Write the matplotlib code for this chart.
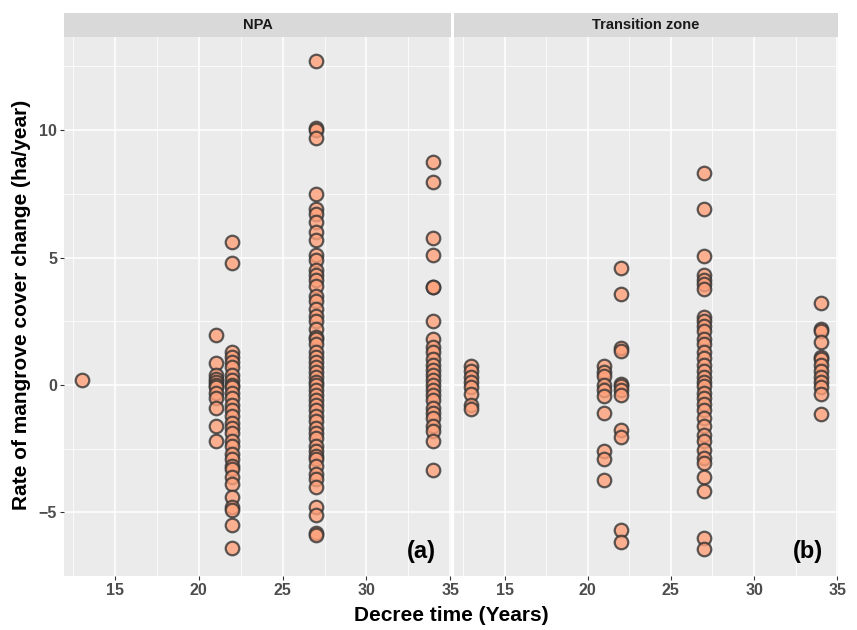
import matplotlib.pyplot as plt
import numpy as np

plt.rcParams['font.family'] = ['Liberation Sans', 'DejaVu Sans']

# values
npa_13 = [0.2]
npa_21 = [1.95, 0.85, 0.4, 0.25, 0.1, 0.0, -0.1, -0.3, -0.5, -0.9, -1.6, -2.2]
npa_22 = [5.6, 4.8, 1.3, 1.1, 0.9, 0.7, 0.4, 0.2, 0.0, -0.1, -0.3, -0.5, -0.8,
          -1.0, -1.2, -1.5, -1.7, -1.9, -2.2, -2.4, -2.7, -2.9, -3.2, -3.3,
          -3.6, -3.9, -4.4, -4.8, -4.9, -5.5, -6.4]
npa_27 = [12.7, 10.1, 10.0, 9.7, 7.5, 6.9, 6.7, 6.4, 6.0, 5.7, 5.1, 4.9, 4.5,
          4.3, 4.1, 3.9, 3.5, 3.3, 3.0, 2.7, 2.5, 2.2, 1.9, 1.8, 1.6, 1.3, 1.1,
          0.9, 0.7, 0.5, 0.3, 0.1, 0.0, -0.2, -0.4, -0.6, -0.8, -1.0, -1.2,
          -1.4, -1.7, -1.9, -2.1, -2.4, -2.6, -2.8, -2.9, -3.2, -3.5, -3.7,
          -4.0, -4.8, -5.1, -5.8, -5.9]
npa_34 = [8.75, 7.95, 5.75, 5.1, 3.85, 3.85, 2.5, 1.8, 1.5, 1.3, 1.0, 0.8, 0.6,
          0.4, 0.2, 0.0, -0.2, -0.4, -0.6, -0.9, -1.1, -1.3, -1.6, -1.8, -2.2,
          -3.35]

tz_13 = [0.75, 0.55, 0.3, 0.1, -0.1, -0.35, -0.8, -0.95]
tz_21 = [0.75, 0.5, 0.35, 0.0, -0.2, -0.45, -1.1, -2.6, -2.9, -3.75]
tz_22 = [4.6, 3.55, 1.45, 1.35, 0.05, -0.05, -0.2, -0.4, -1.75, -2.05, -5.7,
         -6.15]
tz_27 = [8.3, 6.9, 5.05, 4.3, 4.1, 3.95, 3.75, 2.65, 2.5, 2.3, 2.1, 1.8, 1.6,
         1.3, 1.05, 0.8, 0.55, 0.3, 0.1, -0.05, -0.3, -0.5, -0.75, -1.0, -1.3,
         -1.6, -1.95, -2.2, -2.55, -2.85, -3.05, -3.6, -4.15, -6.0, -6.45]
tz_34 = [3.2, 2.2, 2.1, 1.7, 1.1, 1.0, 0.8, 0.55, 0.3, 0.1, -0.1, -0.35, -1.15]

panels = ["NPA", "Transition zone"]
tags = ["(a)", "(b)"]
groups = [
    {13: npa_13, 21: npa_21, 22: npa_22, 27: npa_27, 34: npa_34},
    {13: tz_13, 21: tz_21, 22: tz_22, 27: tz_27, 34: tz_34},
]

x_breaks = [15, 20, 25, 30, 35]
y_breaks = [-5, 0, 5, 10]

# ggplot-like limits with 5% expansion
xmin, xmax = 13, 34
ymin, ymax = -6.45, 12.7
xpad = (xmax - xmin) * 0.05
ypad = (ymax - ymin) * 0.05

fig = plt.figure(figsize=(8.57, 6.3), dpi=100)
W, H = 857, 630
top, bottom = 37, 576
lefts = [(64, 451), (454, 838)]

for i, (l, r) in enumerate(lefts):
    ax = fig.add_axes([l / W, 1 - bottom / H, (r - l) / W, (bottom - top) / H])
    ax.set_facecolor("#EBEBEB")
    for s in ax.spines.values():
        s.set_visible(False)
    ax.set_xlim(xmin - xpad, xmax + xpad)
    ax.set_ylim(ymin - ypad, ymax + ypad)
    ax.set_xticks(x_breaks)
    ax.set_yticks(y_breaks)
    ax.set_xticks([12.5, 17.5, 22.5, 27.5, 32.5], minor=True)
    ax.set_yticks([-7.5, -2.5, 2.5, 7.5, 12.5], minor=True)
    ax.grid(which="major", color="white", linewidth=1.1)
    ax.grid(which="minor", color="white", linewidth=0.55)
    ax.set_axisbelow(True)
    ax.tick_params(which="minor", length=0)
    ax.tick_params(which="major", length=3, width=0.8, color="#333333",
                   labelcolor="#4D4D4D", labelsize=11.5, pad=2)
    for t in ax.get_xticklabels() + ax.get_yticklabels():
        t.set_fontweight("bold")
    if i == 1:
        ax.tick_params(axis="y", left=False, labelleft=False)

    for xv, vals in groups[i].items():
        ax.scatter([xv] * len(vals), vals, s=95, facecolor="#FFA07A",
                   edgecolor="#333333", linewidth=1.6, alpha=0.8, zorder=3)

    ax.text(0.96, 0.025, tags[i], transform=ax.transAxes, ha="right",
            va="bottom", fontsize=17, fontweight="bold")

    # facet strip
    sax = fig.add_axes([l / W, 1 - top / H, (r - l) / W, 24 / H])
    sax.set_facecolor("#D9D9D9")
    sax.set_xticks([])
    sax.set_yticks([])
    for s in sax.spines.values():
        s.set_visible(False)
    sax.text(0.5, 0.5, panels[i], ha="center", va="center", fontsize=10.5,
             fontweight="bold", color="#1A1A1A")

fig.text(451 / W, 0.008, "Decree time (Years)", ha="center", va="bottom",
         fontsize=15, fontweight="bold")
fig.text(0.014, 1 - 305 / H, "Rate of mangrove cover change (ha/year)",
         rotation=90, ha="left", va="center", fontsize=15, fontweight="bold")

fig.savefig("out.png", dpi=100)
